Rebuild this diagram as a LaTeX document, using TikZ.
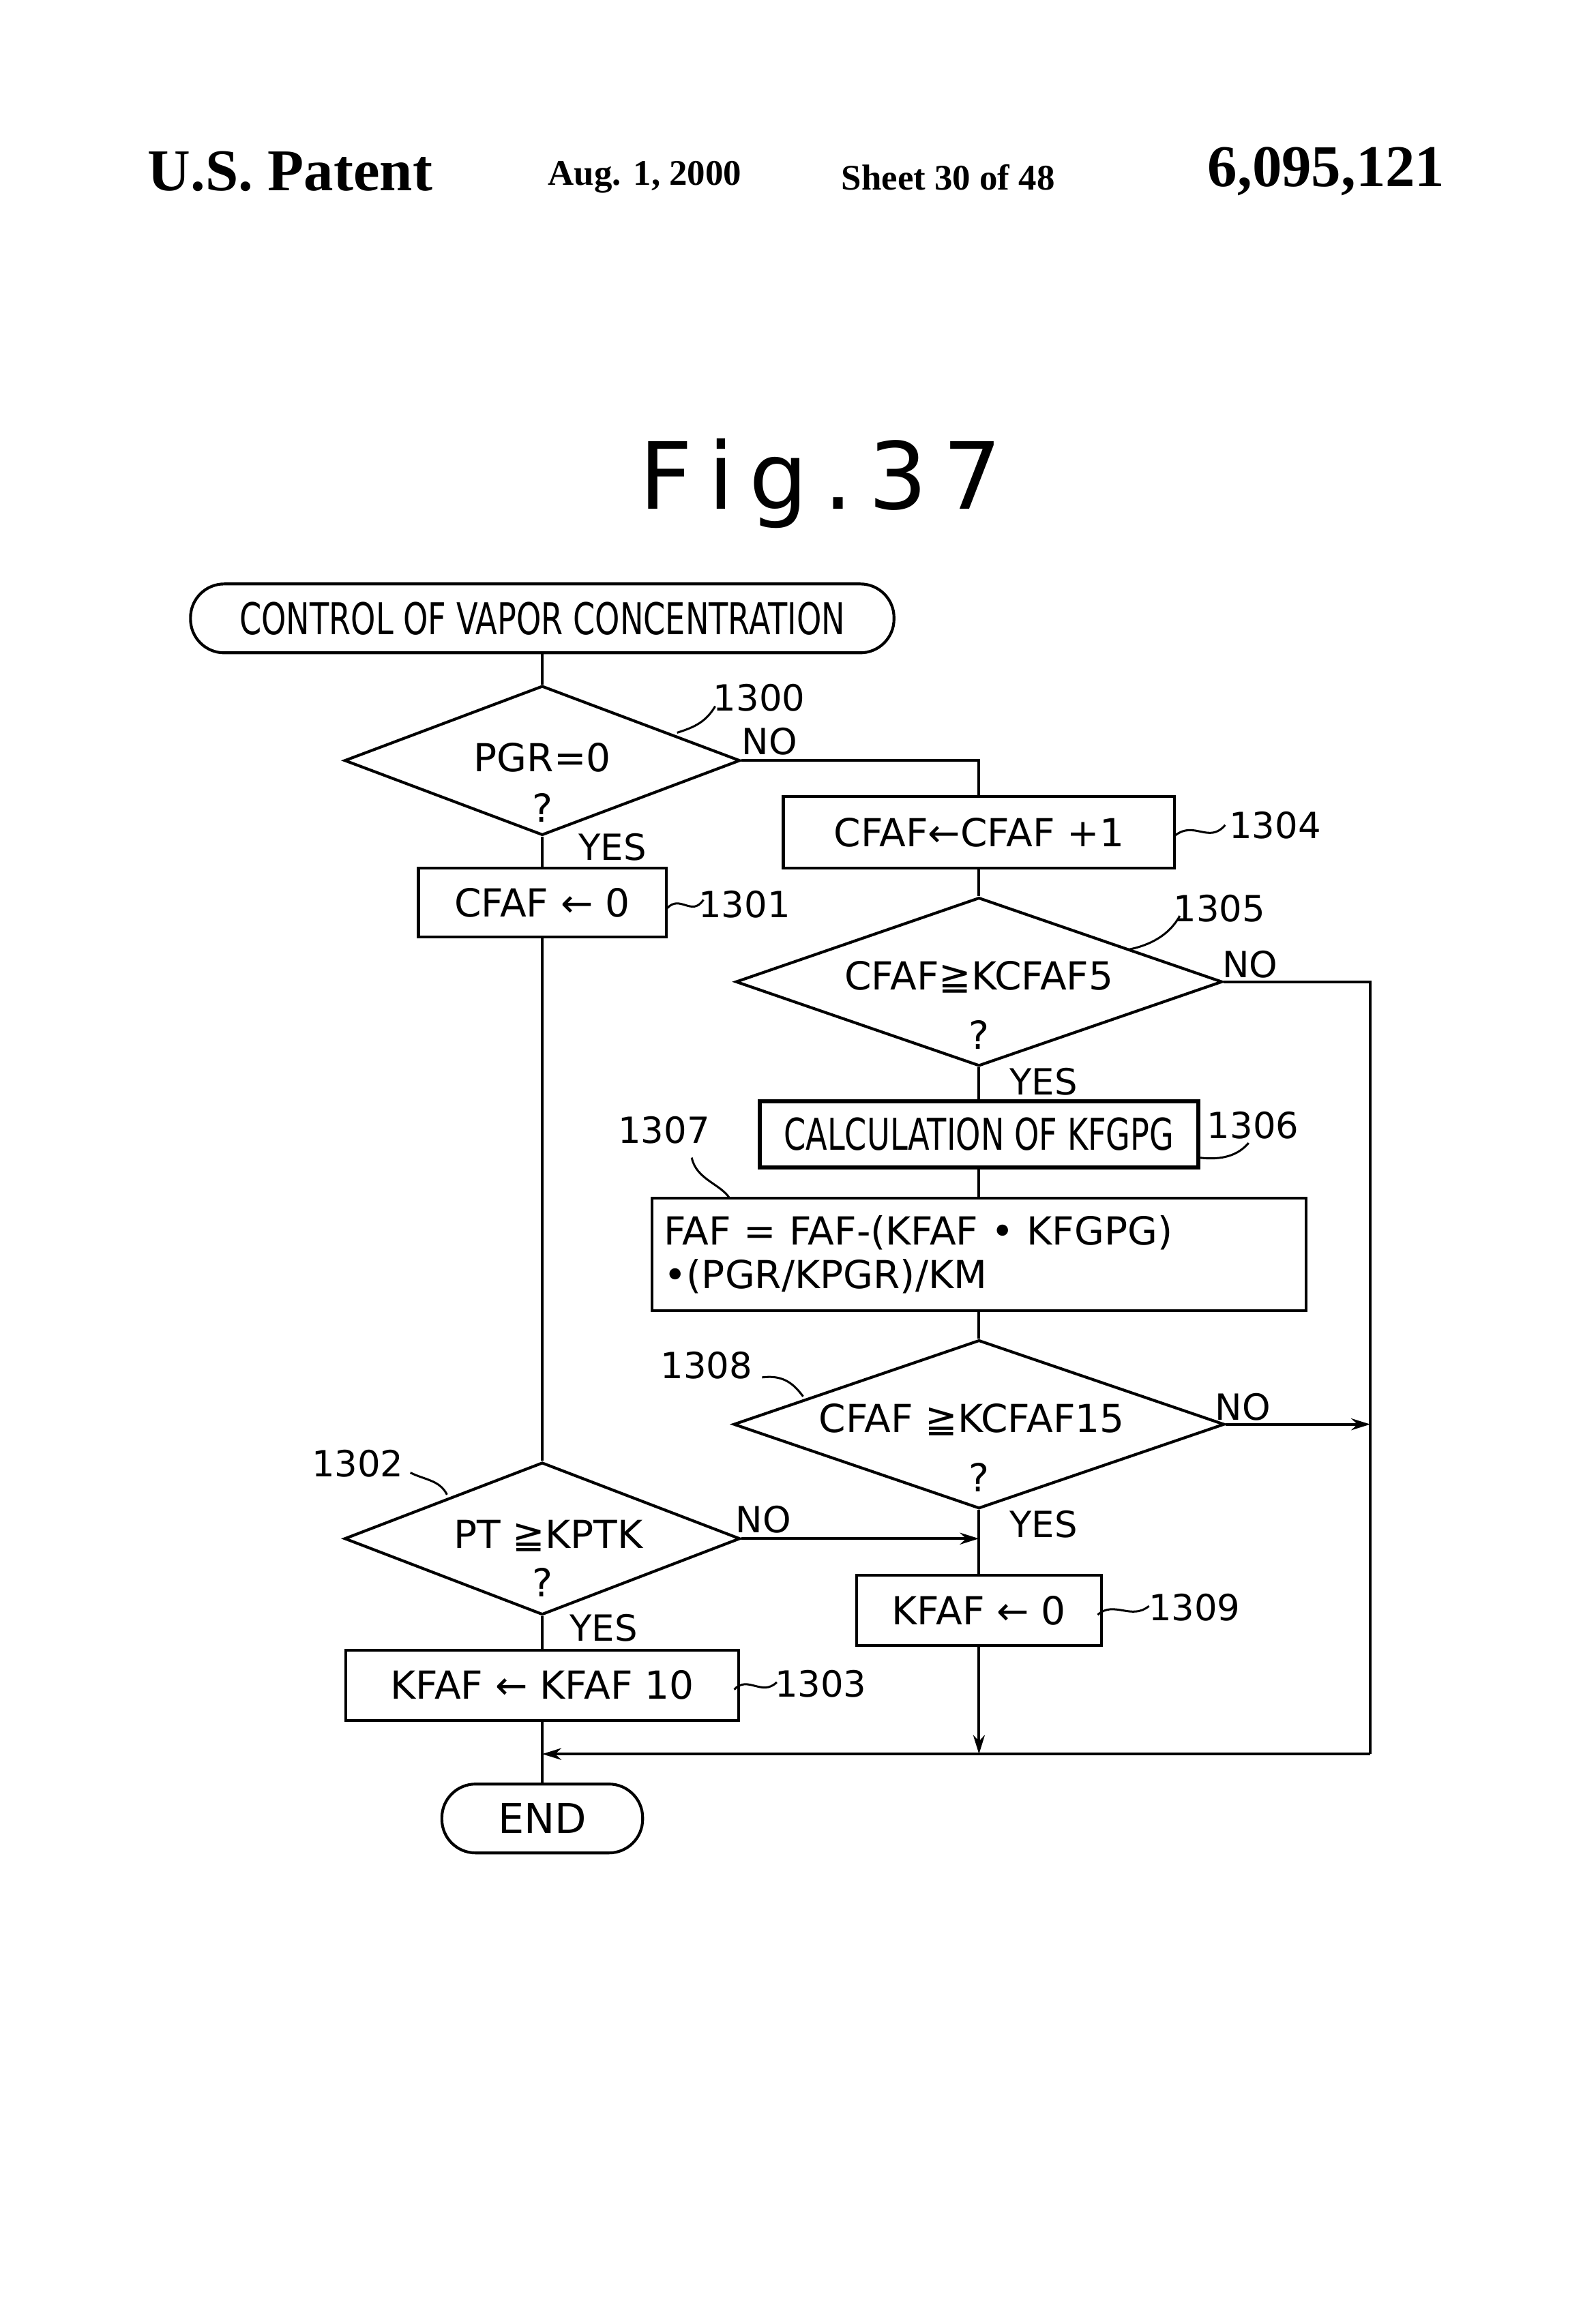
\documentclass[tikz,border=0pt]{standalone}
\usepackage{fontspec}
\setmainfont{DejaVu Sans}
\newfontfamily\serifb{Liberation Serif}
\newfontfamily\narrow{DejaVu Sans}[FakeStretch=0.72]
\usetikzlibrary{shapes.geometric,arrows.meta}
\begin{document}
\begin{tikzpicture}[x=0.2mm,y=-0.2mm,
  every node/.style={inner sep=0pt},
  ln/.style={line width=1.1pt},
  box/.style={draw,line width=1.1pt,font=\fontsize{15}{17}\selectfont},
  dia/.style={draw,diamond,line width=1.1pt},
  txt/.style={font=\fontsize{15}{17}\selectfont},
  lab/.style={font=\fontsize{14}{16}\selectfont},
  arr/.style={ln,-{Stealth[length=2.6mm,width=1.6mm]}},
  hdr/.style={font=\serifb\bfseries\fontsize{14}{16}\selectfont}]
\useasboundingbox (0,0) rectangle (1080,1586);
% header
\node[hdr,font=\serifb\bfseries\fontsize{23}{26}\selectfont] (h1) at (198,117) {U.S. Patent};
\node[hdr] (h2) at (440,121) {Aug. 1, 2000};
\node[hdr] (h3) at (647,121) {Sheet 30 of 48};
\node[hdr,font=\serifb\bfseries\fontsize{23}{26}\selectfont] (h4) at (905,117) {6,095,121};
\node[font=\fontsize{36}{40}\selectfont] (fig) at (560,330) {F\,i\,g\,.\,3\,7};
% nodes
\node[draw,ln,rounded corners=4.6mm,minimum width=96mm,minimum height=9.4mm,font=\narrow\fontsize{17}{19}\selectfont] (s) at (370,422) {CONTROL OF VAPOR CONCENTRATION};
\node[dia,minimum width=54mm,minimum height=20.4mm] (d0) at (370,519) {};
\node[txt] (t0) at (370,517) {PGR=0};
\node[txt] (q0) at (370,551) {?};
\node[box,minimum width=33.8mm,minimum height=9.4mm] (b1301) at (370,616) {CFAF ← 0};
\node[box,minimum width=53.4mm,minimum height=9.8mm] (b1304) at (668,568) {CFAF←CFAF +1};
\node[dia,minimum width=66.4mm,minimum height=23mm] (d1305) at (668,670) {};
\node[txt] (t1305) at (668,667) {CFAF≧KCFAF5};
\node[txt] (q1305) at (668,706) {?};
\node[box,line width=1.6pt,minimum width=59.8mm,minimum height=9mm,font=\narrow\fontsize{17}{19}\selectfont] (b1306) at (668,774) {CALCULATION OF KFGPG};
\node[box,minimum width=89.2mm,minimum height=15.4mm,align=left,text width=86mm] (b1307) at (668,856) {FAF = FAF-(KFAF • KFGPG)\\•(PGR/KPGR)/KM};
\node[dia,minimum width=67mm,minimum height=23mm] (d1308) at (668,972) {};
\node[txt] (t1308) at (663,969) {CFAF ≧KCFAF15};
\node[txt] (q1308) at (668,1008) {?};
\node[box,minimum width=33.4mm,minimum height=9.6mm] (b1309) at (668,1099) {KFAF ← 0};
\node[dia,minimum width=54mm,minimum height=20.8mm] (d1302) at (370,1050) {};
\node[txt] (t1302) at (374,1048) {PT ≧KPTK};
\node[txt] (q1302) at (370,1080) {?};
\node[box,minimum width=53.6mm,minimum height=9.6mm] (b1303) at (370,1150) {KFAF ← KFAF 10};
\node[draw,ln,rounded corners=4.6mm,minimum width=27.4mm,minimum height=9.4mm,font=\fontsize{16}{18}\selectfont] (e) at (370,1241) {END};
% coordinates
\coordinate (c1) at (935,670);
\coordinate (c3) at (935,972);
\coordinate (c2) at (935,1197);
\coordinate (m) at (370,1197);
\coordinate (j) at (668,1050);
\coordinate (c4) at (668,1197);
% connectors
\draw[ln] (s.south) -- (d0.north);
\draw[ln] (d0.east) -| (b1304.north);
\draw[ln] (d0.south) -- (b1301.north);
\draw[ln] (b1301.south) -- (d1302.north);
\draw[ln] (b1304.south) -- (d1305.north);
\draw[ln] (d1305.east) -- (c1) -- (c2);
\draw[arr] (c2) -- (m);
\draw[ln] (d1305.south) -- (b1306.north);
\draw[ln] (b1306.south) -- (b1307.north);
\draw[ln] (b1307.south) -- (d1308.north);
\draw[arr] (d1308.east) -- (c3);
\draw[ln] (d1308.south) -- (b1309.north);
\draw[arr] (d1302.east) -- (j);
\draw[arr] (b1309.south) -- (c4);
\draw[ln] (d1302.south) -- (b1303.north);
\draw[ln] (b1303.south) -- (e.north);
% YES / NO
\node[lab] (n0) at (525,506) {NO};
\node[lab] (y0) at (418,578) {YES};
\node[lab] (n1305) at (853,658) {NO};
\node[lab] (y1305) at (712,738) {YES};
\node[lab] (n1308) at (848,960) {NO};
\node[lab] (y1308) at (712,1040) {YES};
\node[lab] (n1302) at (521,1037) {NO};
\node[lab] (y1302) at (412,1111) {YES};
% reference labels
\node[lab] (l1300) at (518,476) {1300};
\draw[ln,line width=0.8pt] (462,500) .. controls (475,496) and (482,492) .. (488,482);
\node[lab] (l1304) at (870,563) {1304};
\draw[ln,line width=0.8pt] (802,570) .. controls (815,560) and (825,576) .. (836,563);
\node[lab] (l1301) at (508,617) {1301};
\draw[ln,line width=0.8pt] (455,620) .. controls (464,610) and (472,626) .. (480,614);
\node[lab] (l1305) at (832,620) {1305};
\draw[ln,line width=0.8pt] (770,648) .. controls (785,645) and (798,638) .. (805,625);
\node[lab] (l1306) at (855,768) {1306};
\draw[ln,line width=0.8pt] (818,790) .. controls (835,792) and (845,788) .. (852,780);
\node[lab] (l1307) at (453,771) {1307};
\draw[ln,line width=0.8pt] (472,790) .. controls (475,805) and (492,808) .. (498,818);
\node[lab] (l1308) at (482,932) {1308};
\draw[ln,line width=0.8pt] (520,940) .. controls (535,938) and (542,945) .. (548,953);
\node[lab] (l1309) at (815,1097) {1309};
\draw[ln,line width=0.8pt] (749,1102) .. controls (760,1092) and (772,1106) .. (784,1096);
\node[lab] (l1302) at (244,999) {1302};
\draw[ln,line width=0.8pt] (280,1005) .. controls (290,1010) and (300,1010) .. (305,1020);
\node[lab] (l1303) at (560,1149) {1303};
\draw[ln,line width=0.8pt] (501,1153) .. controls (510,1143) and (520,1158) .. (530,1148);
\end{tikzpicture}
\end{document}
